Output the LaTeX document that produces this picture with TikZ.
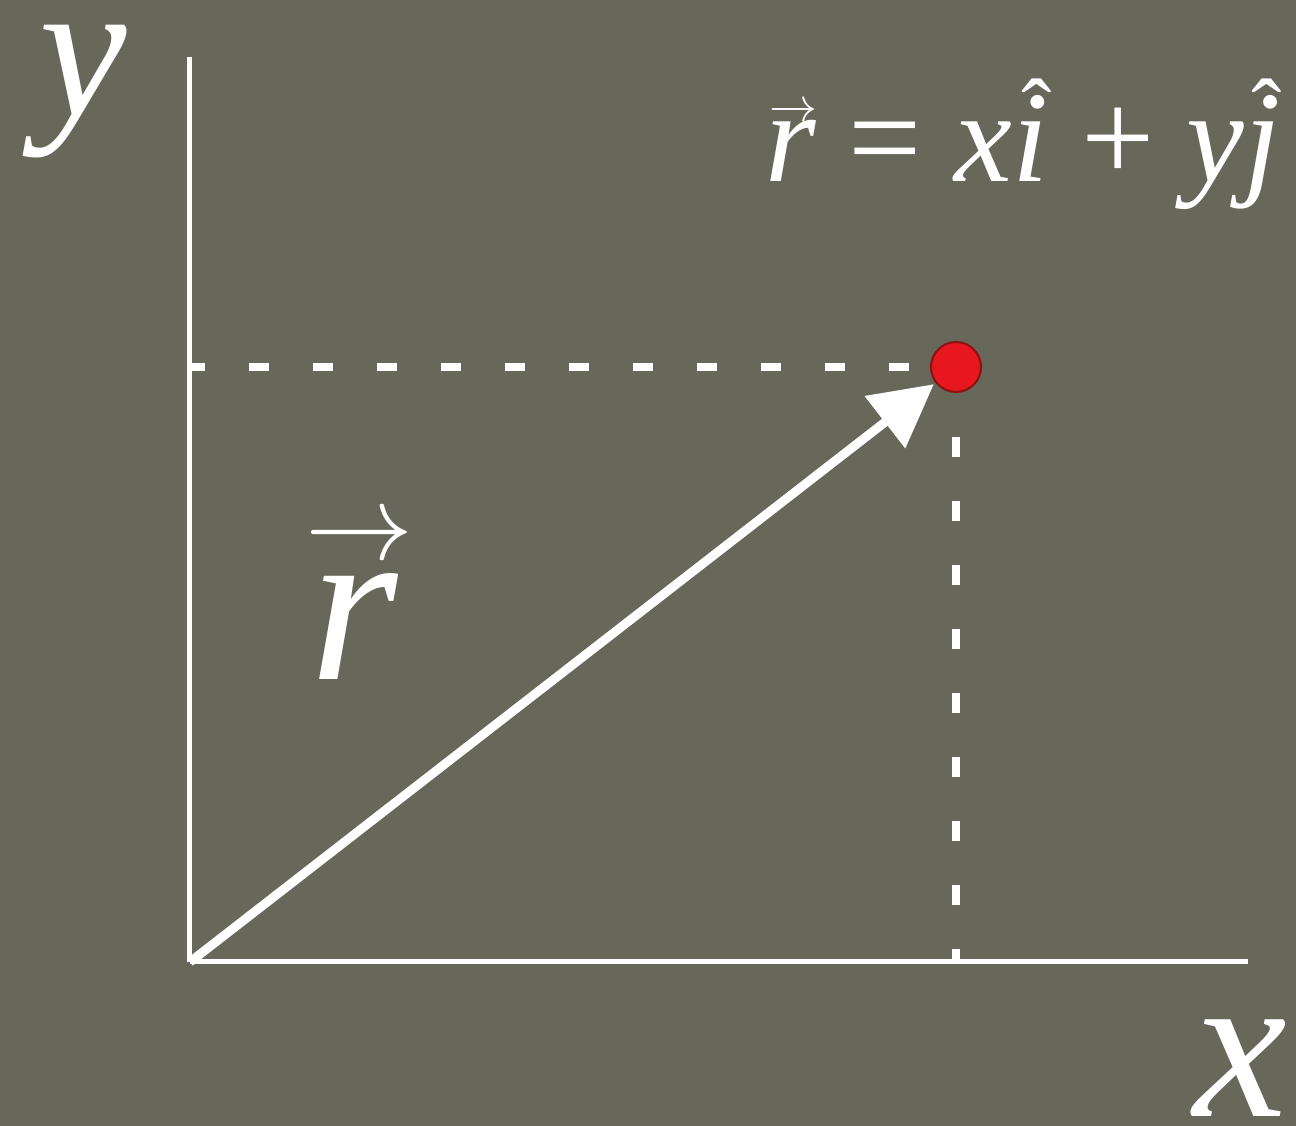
\documentclass[tikz,border=0pt]{standalone}
\usepackage{amsmath}
\usepackage{fontspec}
\setmainfont{Liberation Serif}
\usepackage{xcolor}
\usepackage{tikz}
\usetikzlibrary{arrows.meta,positioning,calc}

\definecolor{board}{RGB}{103,104,89}
\definecolor{dotred}{RGB}{232,22,30}
\definecolor{dotrim}{RGB}{140,20,20}
\newcommand{\vit}[1]{\mbox{\itshape #1}}
\newlength{\accwd}
% accent #1 over italic letter #2, raised by #3, shifted right by #4
\newcommand{\accit}[4]{\settowidth{\accwd}{\vit{#2}}%
  \makebox[0pt][l]{\makebox[\accwd][c]{\kern#4\raisebox{#3}{\makebox[0pt]{#1}}}}\vit{#2}}
\newcommand{\arrowacc}[1]{\resizebox{#1}{!}{$\rightarrow$}}
\newcommand{\hatacc}{{\fontsize{26}{30}\selectfont ˆ}}

\begin{document}
\begin{tikzpicture}[
  axis/.style={draw=white, line width=0.05cm},
  guide/.style={draw=white, line width=0.08cm, dash pattern=on 0.2cm off 0.44cm},
  vecarrow/.style={draw=white, line width=0.09cm,
    -{Triangle[length=0.62cm,width=0.64cm]}, shorten >=0.02cm},
  point/.style={circle, fill=dotred, draw=dotrim, line width=0.6pt,
    minimum size=0.5cm, inner sep=0pt},
  biglabel/.style={text=white, inner sep=0pt, font=\fontsize{56}{66}\selectfont},
  eqlabel/.style={text=white, inner sep=0pt, font=\fontsize{37}{44}\selectfont}
]
  \fill[board] (-1.90,-1.64) rectangle (11.06,9.62);
  \useasboundingbox (-1.90,-1.64) rectangle (11.06,9.62);

  \coordinate (O) at (0,0);
  \coordinate (ytop) at (0,9.05);
  \coordinate (xend) at (10.58,0);
  \node[point] (pt) at (7.66,5.95) {};

  % axes
  \draw[axis] (O) -- (ytop);
  \draw[axis] (O) -- (xend);

  % projections of the point
  \draw[guide, dash phase=0.43cm] (pt) -- (pt -| O);
  \draw[guide, dash phase=0.2cm] (pt) -- (pt |- O);

  % position vector
  \draw[vecarrow] (O) -- (pt);

  \node[biglabel] (ylab) at (-1.07,8.70) {\vit{y}};
  \node[biglabel, font=\fontsize{60}{70}\selectfont] (xlab) at (10.50,-1.06) {\vit{x}};
  \node[biglabel, anchor=base west, font=\fontsize{64}{74}\selectfont]
    (rlab) at (1.20,2.82) {\accit{\arrowacc{1.08cm}}{r}{1.20cm}{0.11cm}};
  \node[eqlabel, anchor=base west] (eq) at (5.75,7.80)
    {\accit{\arrowacc{0.48cm}}{r}{0.60cm}{0.05cm} = \vit{x}\accit{\hatacc}{i}{0.39cm}{0.12cm} + \vit{y}\accit{\hatacc}{j}{0.39cm}{0.08cm}};
\end{tikzpicture}
\end{document}
